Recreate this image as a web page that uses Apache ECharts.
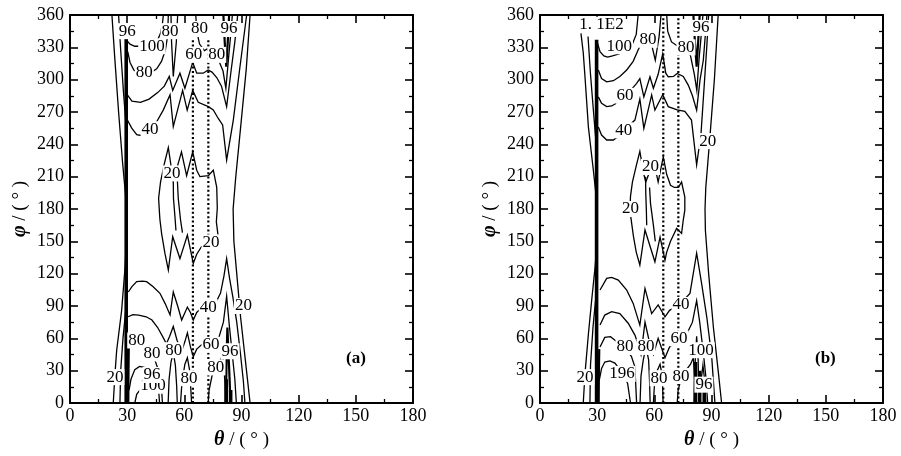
<!DOCTYPE html>
<html>
<head>
<meta charset="utf-8">
<script src="https://cdn.jsdelivr.net/npm/echarts@6/dist/echarts.min.js"></script>
<style>
  html, body { margin: 0; padding: 0; background: #fff; }
  #chart { width: 901px; height: 456px; }
</style>
</head>
<body>
<div id="chart"></div>
<script>
// Axis ranges: [min, max, interval]
const thetaAxis = [0, 180, 30];
const phiAxis = [0, 360, 30];

// ---------- Panel (a) contour lines, points are [theta, phi] ----------
const aHeavy = [[29.5, 0], [29.5, 340]];
const aHeavyFoot = [[30.6, 0], [30.7, 30], [30.9, 58]];
const aLeftTop1 = [[22, 360], [23.5, 320], [25.5, 270], [27.5, 225], [29.3, 190]];
const aLeftTop2 = [[25.5, 360], [26.5, 330], [28, 290], [29.3, 260]];
const aLeftBot1 = [[22.7, 0], [23.6, 27], [24.5, 49], [27.1, 86], [28.9, 126], [29.3, 140]];
const aLeftBot2 = [[26.2, 0], [26.6, 30], [27.8, 60], [29.2, 85]];
const aRightOuter = [[94.5, 360], [92.5, 310], [89.5, 255], [87, 210], [85.6, 180], [86, 150], [87.5, 120], [89.5, 80], [92, 40], [94.5, 0]];
const aC100Top = [[30, 336], [31.5, 333], [34, 331], [38, 331], [42, 331], [45.5, 335], [47.5, 343], [48.5, 352], [49, 360]];
const aC80Top = [[30.3, 326], [31.5, 316], [33.5, 309], [36, 306], [42, 306], [45.5, 310], [48, 317], [50, 327], [51.2, 340], [51.6, 360]];
const aC80Spike = [[53, 360], [53.3, 335], [54.2, 303], [55.8, 335], [56.5, 360]];
const aC80Right = [[66, 360], [66.5, 345], [68, 333], [70.5, 327], [72.5, 329], [75, 325], [78, 318], [80.3, 308], [81.8, 292], [83.2, 320], [84.5, 345], [85.2, 360]];
const aC96Right = [[80.5, 360], [81.2, 335], [82, 312], [82.8, 335], [83.5, 360]];
const aC60Top = [[30.1, 286], [32.5, 280], [37, 279], [41.5, 282], [46, 288], [49.5, 294], [52.1, 303], [53.9, 290], [57.7, 306], [60.3, 292], [64.4, 316], [66.5, 306], [69.9, 306], [72.5, 309], [74.5, 307], [77, 302], [79.5, 294], [82.2, 275], [84.3, 305], [86.5, 335], [88, 360]];
const aC40Top = [[29.7, 264], [32.4, 255], [35, 249], [38, 248], [42, 251], [45.5, 261], [49, 272], [52.5, 286], [54.2, 256.5], [59.1, 290], [61.5, 271.8], [64.4, 290], [67.3, 279], [72.6, 275], [75.2, 272], [77.8, 264], [80.1, 258], [82.2, 225.5], [85.7, 262.5], [89.2, 312], [92.7, 360]];
const aC20Loop = [[47, 175], [46.5, 190], [47.5, 205], [49.5, 222], [51.6, 237], [54.2, 206], [58.5, 233], [61.2, 211], [64.4, 233], [66.5, 216], [68.2, 210], [72.6, 211], [75.2, 216], [77, 200], [77.3, 181], [76.8, 168], [77.8, 154], [74, 149], [69, 145], [66.5, 138], [64.7, 129.6], [61.6, 155.8], [57.7, 134], [53.9, 154.3], [51.6, 123.4], [49.8, 139], [48.1, 157], [47.2, 170], [47, 175]];
const aC20Inner1 = [[54.2, 206], [54.3, 190], [55.2, 170], [55.6, 160]];
const aC20Inner2 = [[56.2, 212], [56.8, 190], [58, 170], [59, 158]];
const aC40Bot = [[30.6, 103], [32.5, 108], [35, 112.6], [38, 113], [40.2, 112.6], [43.5, 108], [47.2, 101.8], [50, 92], [52.5, 81.7], [54.2, 103], [56.5, 90], [58.6, 77], [61.6, 89], [63.2, 84], [64.7, 77], [66.5, 84], [69, 88], [72.5, 89], [76.5, 93], [79, 102], [80.8, 118], [82.2, 134], [83.8, 115], [85.5, 98], [87.5, 75], [89.5, 45], [91, 20], [91.8, 0]];
const aC60Bot = [[30.5, 80], [33, 82], [36, 81.5], [40, 80], [43, 77], [46, 70], [48.5, 62], [50.6, 55], [52.3, 62], [54.2, 71], [56.2, 58], [58.6, 48], [60.3, 57], [61.6, 65], [63.2, 52], [64.7, 43], [66.5, 50], [69, 54], [74, 55], [78, 60], [80.5, 75], [82.2, 99], [83.6, 72], [85, 48], [86.5, 22], [87.3, 0]];
const aC80Bot = [[30.5, 64], [33, 61], [36, 58], [39, 54], [42, 47], [44.5, 40], [46.5, 30], [48, 15], [48.5, 0]];
const aC80BotB = [[51.5, 0], [52, 22], [53, 38], [54.2, 47], [55.3, 35], [56, 15], [56.3, 0]];
const aC80BotC = [[58, 0], [58.8, 20], [60.3, 36], [61.6, 42], [62.8, 30], [63.5, 10], [63.8, 0]];
const aC80BotD = [[72.5, 0], [73, 12], [74.5, 25], [76.5, 32], [78.5, 38], [80.2, 45], [81.3, 20], [81.5, 0]];
const aC96BotRight = [[81.8, 0], [82.2, 45], [82.6, 70], [83.2, 45], [83.8, 20], [84.2, 0]];
const aC96BotLeft = [[31, 12], [32, 22], [34, 31], [36.5, 34], [39, 33], [42, 29], [45.5, 24], [46.5, 12], [47, 0]];
const aC100BotLeft = [[34, 0], [35, 8], [37.5, 14], [40, 16], [43.5, 16]];
const aThickBot1 = [[82, 0], [82, 22]];
const aThickBot2 = [[84.3, 0], [84.3, 12]];
const aDotted1 = [[64.5, 0], [64.5, 338]];
const aDotted2 = [[72.6, 0], [72.6, 338]];

// Inline contour labels: [theta, phi, text]
const aLabels = [
  [30, 345, '96'], [43, 331, '100'], [39, 307, '80'], [52.5, 345, '80'], [68, 347, '80'],
  [83.5, 347, '96'], [65, 323, '60'], [77, 323, '80'], [42, 254, '40'], [53.5, 213, '20'],
  [74, 149, '20'], [72.5, 89, '40'], [91, 90, '20'], [35, 58, '80'], [43, 46, '80'],
  [54.5, 49, '80'], [74, 54, '60'], [84, 48, '96'], [76.5, 33, '80'], [23.6, 24, '20'],
  [43.5, 16, '100'], [43, 26, '96'], [62.5, 23, '80']
];

// ---------- Panel (b) contour lines ----------
const bHeavy = [[29.7, 0], [29.7, 337]];
const bHeavyFoot = [[30.8, 0], [30.9, 30], [31.1, 50]];
const bLeftTop1 = [[21.5, 343], [22.7, 325], [23.6, 303], [25.4, 256], [28, 216], [29.5, 191]];
const bLeftTop2 = [[25.2, 340], [26.5, 305], [28, 272], [29.5, 240]];
const bLeftBot1 = [[22.7, 0], [23.6, 27], [25.4, 64], [27.1, 95], [28.9, 126], [29.5, 140]];
const bLeftBot2 = [[26.2, 0], [26.5, 35], [27.8, 70], [29.4, 100]];
const bRightOuter = [[93.5, 360], [91.5, 300], [89, 243], [87, 200], [86.6, 180], [86.8, 160], [88.5, 120], [91, 70], [93.5, 30], [95.3, 0]];
const bC100Top = [[30, 335], [31.5, 326], [33.5, 322], [35.5, 321], [38, 322], [41.5, 324], [45, 327], [48, 331], [50.5, 342], [51.5, 360]];
const bC80Top = [[30.6, 309], [32.3, 301], [35, 298], [38.5, 299], [41.9, 303], [45.5, 309], [48.9, 317], [51.6, 328], [53.5, 334], [56.7, 337], [58.5, 333], [60.5, 318], [62.5, 340], [63.5, 360]];
const bC80Right = [[66.5, 360], [67, 345], [69, 335], [72.3, 331], [74.5, 330], [76.6, 330], [79, 322], [81, 305], [82.3, 290], [83.5, 320], [84.8, 345], [85.5, 360]];
const bC96Right = [[80.5, 360], [81.3, 335], [82.2, 312], [83, 335], [83.8, 360]];
const bC60Top = [[30.6, 284], [32.3, 278], [35, 275], [37.6, 275.6], [41, 279], [44.6, 285], [48, 291], [50.7, 296.6], [52.4, 301], [54.5, 284], [57.7, 302.7], [59.5, 292], [62, 305], [64.4, 324], [66, 306], [67.3, 302.7], [70, 303], [72, 305.8], [75.2, 303], [77.8, 295], [80, 285], [82.2, 271.7], [84, 300], [85.7, 318], [87.6, 360]];
const bC40Top = [[30.6, 256], [32.3, 248.6], [35, 244], [38.5, 244], [41.5, 248], [44, 253], [47, 258], [49.8, 262.5], [52.4, 282], [54.5, 254.8], [58.6, 285.8], [60.3, 271.8], [64.4, 286], [67.3, 275], [72, 272], [76, 270.5], [79.5, 262.5], [82.2, 221], [84.5, 250], [86, 290], [87.5, 330], [88.5, 360]];
const bC20Loop = [[47.2, 179], [47.5, 192], [48.5, 205], [50.5, 220], [52.4, 233.4], [54.5, 212], [55.5, 205], [57, 212], [58, 218], [60, 222], [62, 205], [64.7, 228.5], [66.5, 212], [68.5, 202], [70.5, 200], [72.6, 200], [74.3, 205], [76, 191], [76, 179], [75.2, 170], [74.3, 157.4], [71.7, 162], [68.5, 150], [66.5, 140], [65.6, 132.6], [63, 154], [60.3, 131], [55.1, 160.5], [52.4, 128], [50.5, 140], [49, 155], [48, 168], [47.2, 179]];
const bC20Inner1 = [[55.4, 210], [55.5, 195], [55.8, 180], [56, 165]];
const bC20Inner2 = [[57.5, 200], [58, 185], [59.5, 165], [60.5, 150]];
const bC40Bot = [[31.5, 104.8], [35, 115.6], [37.6, 116.6], [41.1, 114], [45.5, 104.8], [48.9, 92.4], [52.4, 72.3], [55.1, 106.3], [58.6, 83], [62, 91], [65.6, 80], [68, 86], [73, 91], [78.7, 101.7], [82.2, 139], [84.8, 111], [87.5, 80], [90.1, 43], [91.8, 0]];
const bC60Bot = [[31.5, 72.3], [34, 81.6], [37.6, 84.7], [41.9, 83], [46.3, 74], [49.8, 63], [52, 52], [53, 45], [55.1, 75], [58, 52], [59.5, 45], [62, 60], [63, 55], [65.6, 42], [68, 52], [73, 60], [77, 64], [80, 75], [82.2, 95], [83.8, 75], [85.5, 50], [87, 25], [88, 0]];
const bC80Bot = [[31.5, 52], [34, 60.9], [37, 61.5], [40.2, 57], [44.6, 52], [48, 43], [49.8, 33.6], [50.7, 0]];
const bC80BotB = [[52.5, 0], [53, 25], [54.2, 40], [55.6, 52], [57, 40], [57.5, 20], [57.8, 0]];
const bC80BotC = [[59.5, 0], [60, 15], [61.5, 30], [63, 36], [64.2, 25], [64.6, 0]];
const bC80BotD = [[72, 0], [72.5, 12], [74, 22], [76.5, 30], [79, 36], [80.5, 42], [81.2, 20], [81.4, 0]];
const bC100BotRight = [[80.8, 0], [81.2, 30], [82.2, 62], [83, 40], [83.4, 0]];
const bC96BotRight = [[84, 0], [84.5, 20], [85.5, 35], [86.5, 20], [87, 0]];
const bC96BotLeft = [[31.1, 21], [32.3, 32], [34, 38], [36.7, 39], [39.3, 37], [43.7, 27], [46, 18], [47.5, 0]];
const bThickBot1 = [[81.6, 0], [81.6, 38]];
const bThickBot2 = [[83.8, 0], [83.8, 30]];
const bThickBot3 = [[86.2, 0], [86.2, 18]];
const bDotted1 = [[64.7, 0], [64.7, 360]];
const bDotted2 = [[72.6, 0], [72.6, 360]];

const bLabels = [
  [32.3, 351, '1. 1E2'], [41.6, 331, '100'], [56.7, 337, '80'], [84.5, 348, '96'], [76.6, 330, '80'],
  [44.6, 285, '60'], [44, 253, '40'], [88, 243, '20'], [58, 219, '20'], [47.5, 180, '20'],
  [74, 91, '40'], [73, 60, '60'], [44.6, 52, '80'], [55.6, 52, '80'], [84.5, 49, '100'],
  [23.6, 24, '20'], [43, 27, '196'], [62.5, 23, '80'], [74, 25, '80'], [86, 17, '96']
];

// Grouping per panel
const thinA = [aLeftTop1, aLeftTop2, aLeftBot1, aLeftBot2, aRightOuter, aC100Top, aC80Top, aC80Spike, aC80Right,
  aC60Top, aC40Top, aC20Loop, aC20Inner1, aC20Inner2, aC40Bot, aC60Bot, aC80Bot, aC80BotB, aC80BotC, aC80BotD,
  aC96BotLeft, aC100BotLeft];
const boldA = [aC96Right, aC96BotRight, aHeavyFoot];
const heavyA = [aHeavy, aThickBot1, aThickBot2];
const dottedA = [aDotted1, aDotted2];

const thinB = [bLeftTop1, bLeftTop2, bLeftBot1, bLeftBot2, bRightOuter, bC100Top, bC80Top, bC80Right,
  bC60Top, bC40Top, bC20Loop, bC20Inner1, bC20Inner2, bC40Bot, bC60Bot, bC80Bot, bC80BotB, bC80BotC, bC80BotD,
  bC100BotRight, bC96BotRight, bC96BotLeft];
const boldB = [bC96Right, bHeavyFoot];
const heavyB = [bHeavy, bThickBot1, bThickBot2, bThickBot3];
const dottedB = [bDotted1, bDotted2];

const SERIF = "'Liberation Serif','DejaVu Serif',serif";

const chart = echarts.init(document.getElementById('chart'), null, { renderer: 'canvas' });

const grids = [
  { left: 70, top: 15, width: 343, height: 388 },
  { left: 540, top: 15, width: 343, height: 388 }
];

function tickStyle() {
  return {
    axisLine: { show: true, onZero: false, lineStyle: { color: '#000', width: 2 } },
    axisTick: { show: true, inside: true, length: 8, lineStyle: { color: '#000', width: 1.6 } },
    minorTick: { show: true, splitNumber: 2, length: 4, lineStyle: { color: '#000', width: 1.3 } },
    splitLine: { show: false },
    minorSplitLine: { show: false }
  };
}

const nameRich = {
  g: { fontFamily: SERIF, fontStyle: 'italic', fontWeight: 'bold', fontSize: 20, color: '#000' },
  n: { fontFamily: SERIF, fontSize: 19, color: '#000' }
};

const xAxes = [];
const yAxes = [];
grids.forEach((g, gi) => {
  xAxes.push(Object.assign({
    type: 'value', gridIndex: gi, position: 'bottom',
    min: thetaAxis[0], max: thetaAxis[1], interval: thetaAxis[2],
    name: '{g|θ}{n| / ( ° )}', nameLocation: 'middle', nameGap: 27,
    nameTextStyle: { rich: nameRich },
    axisLabel: { color: '#000', fontFamily: SERIF, fontSize: 18, margin: 4 }
  }, tickStyle()));
  xAxes.push(Object.assign({
    type: 'value', gridIndex: gi, position: 'top',
    min: thetaAxis[0], max: thetaAxis[1], interval: thetaAxis[2],
    axisLabel: { show: false }
  }, tickStyle()));
  yAxes.push(Object.assign({
    type: 'value', gridIndex: gi, position: 'left',
    min: phiAxis[0], max: phiAxis[1], interval: phiAxis[2],
    name: '{g|φ}{n| / ( ° )}', nameLocation: 'middle', nameGap: 40, nameRotate: 90,
    nameTextStyle: { rich: nameRich },
    axisLabel: { color: '#000', fontFamily: SERIF, fontSize: 18, margin: 6 }
  }, tickStyle()));
  yAxes.push(Object.assign({
    type: 'value', gridIndex: gi, position: 'right',
    min: phiAxis[0], max: phiAxis[1], interval: phiAxis[2],
    axisLabel: { show: false }
  }, tickStyle()));
});

const series = [];
function addLines(gi, list, width, dotted, z) {
  list.forEach(pts => {
    series.push({
      type: 'line', xAxisIndex: gi * 2, yAxisIndex: gi * 2,
      data: pts, symbol: 'none', smooth: false, silent: true, clip: true, z: z,
      lineStyle: { color: '#000', width: width, type: dotted ? [2, 2.4] : 'solid', cap: 'butt', join: 'miter' }
    });
  });
}
function addLabels(gi, list) {
  series.push({
    type: 'scatter', xAxisIndex: gi * 2, yAxisIndex: gi * 2, z: 10, silent: true,
    symbolSize: 1, itemStyle: { color: '#fff', opacity: 1 },
    data: list.map(d => ({ value: [d[0], d[1]], name: d[2] })),
    label: {
      show: true, position: 'inside', formatter: p => p.name,
      fontFamily: SERIF, fontSize: 17, color: '#000',
      textBorderWidth: 0, textBorderColor: 'transparent', textShadowBlur: 0,
      backgroundColor: '#fff', padding: [0, 1, 0, 1], lineHeight: 16
    }
  });
}

addLines(0, thinA, 1.3, false, 2);
addLines(0, boldA, 2.2, false, 2);
addLines(0, heavyA, 3.6, false, 3);
addLines(0, dottedA, 2.2, true, 4);
addLabels(0, aLabels);

addLines(1, thinB, 1.3, false, 2);
addLines(1, boldB, 2.2, false, 2);
addLines(1, heavyB, 3.6, false, 3);
addLines(1, dottedB, 2.2, true, 4);
addLabels(1, bLabels);

chart.setOption({
  animation: false,
  backgroundColor: '#fff',
  grid: grids,
  xAxis: xAxes,
  yAxis: yAxes,
  series: series,
  graphic: [
    { type: 'text', left: 346, top: 350, z: 20,
      style: { text: '(a)', font: 'bold 17px ' + SERIF, fill: '#000' } },
    { type: 'text', left: 815, top: 350, z: 20,
      style: { text: '(b)', font: 'bold 17px ' + SERIF, fill: '#000' } }
  ]
});
</script>
</body>
</html>
